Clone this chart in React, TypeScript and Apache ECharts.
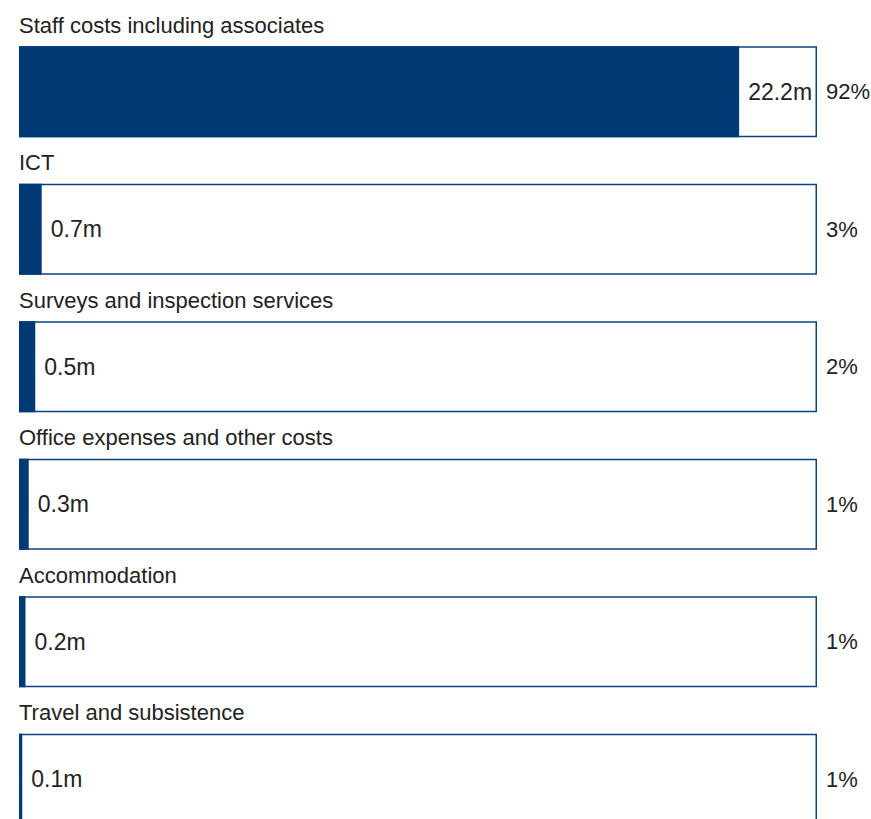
import React, { useEffect, useRef } from "react";
import * as echarts from "echarts";

const categories = [
  "Staff costs including associates",
  "ICT",
  "Surveys and inspection services",
  "Office expenses and other costs",
  "Accommodation",
  "Travel and subsistence",
];
const values = [22.2, 0.7, 0.5, 0.3, 0.2, 0.1];
const shares = [92, 3, 2, 1, 1, 1];
const scaleMax = 24.6;

const NAVY = "#003a75";
const FONT = "'Liberation Sans', Arial, Helvetica, sans-serif";
const TEXT = "#222222";

export default function App() {
  const ref = useRef<HTMLDivElement>(null);
  useEffect(() => {
    if (!ref.current) return;
    const chart = echarts.init(ref.current, null, { renderer: "svg" });
    const full = categories.map(() => scaleMax);
    chart.setOption({
      animation: false,
      backgroundColor: "#ffffff",
      textStyle: { fontFamily: FONT },
      grid: { left: 19, right: 54, top: 23, bottom: -29, outerBoundsMode: "none", containLabel: false },
      xAxis: { type: "value", min: 0, max: scaleMax, show: false },
      yAxis: {
        type: "category",
        data: categories,
        inverse: true,
        show: false,
      },
      series: [
        {
          type: "bar",
          name: "frame",
          data: full,
          barWidth: 91,
          barGap: "-100%",
          itemStyle: { color: "#ffffff", borderColor: "#0d4282", borderWidth: 1.5 },
          label: {
            show: true,
            position: "right",
            distance: 9,
            formatter: (p: any) => shares[p.dataIndex] + "%",
            color: TEXT,
            fontFamily: FONT,
            fontSize: 22,
          },
          silent: true,
        },
        {
          type: "bar",
          name: "value",
          data: values,
          barWidth: 91,
          barGap: "-100%",
          itemStyle: { color: NAVY },
          label: {
            show: true,
            position: "right",
            distance: 9,
            formatter: (p: any) => values[p.dataIndex] + "m",
            color: TEXT,
            fontFamily: FONT,
            fontSize: 23,
          },
          silent: true,
        },
        {
          type: "bar",
          name: "names",
          data: full,
          barWidth: 91,
          barGap: "-100%",
          itemStyle: { color: "rgba(0,0,0,0)" },
          label: {
            show: true,
            position: [0, -21],
            align: "left",
            verticalAlign: "middle",
            formatter: (p: any) => categories[p.dataIndex],
            color: TEXT,
            fontFamily: FONT,
            fontSize: 22,
          },
          silent: true,
        },
      ],
    });
    return () => chart.dispose();
  }, []);
  return (
    <div
      ref={ref}
      style={{ position: "fixed", left: 0, top: 0, width: 871, height: 819, background: "#fff" }}
    />
  );
}
